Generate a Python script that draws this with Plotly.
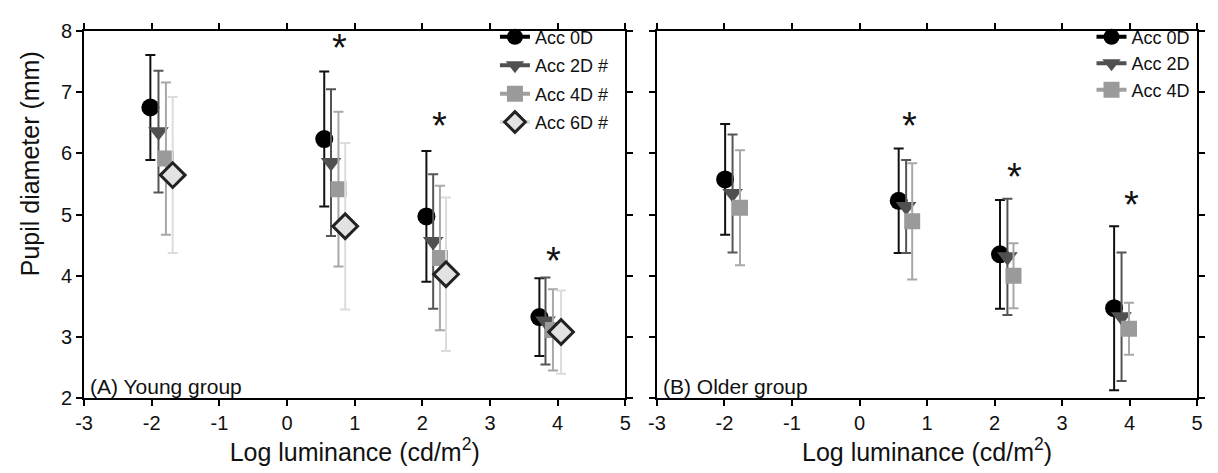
import plotly.graph_objects as go

# ---------------- data ----------------
series_names_young = ["Acc 0D", "Acc 2D #", "Acc 4D #", "Acc 6D #"]
series_names_older = ["Acc 0D", "Acc 2D", "Acc 4D"]

young_0d_x = [-2.02, 0.55, 2.06, 3.73]
young_0d_y = [6.75, 6.235, 4.97, 3.325]
young_0d_sd = [0.86, 1.105, 1.07, 0.635]

young_2d_x = [-1.90, 0.65, 2.16, 3.82]
young_2d_y = [6.355, 5.85, 4.56, 3.26]
young_2d_sd = [0.995, 1.20, 1.10, 0.71]

young_4d_x = [-1.79, 0.76, 2.26, 3.93]
young_4d_y = [5.915, 5.415, 4.29, 3.115]
young_4d_sd = [1.245, 1.265, 1.18, 0.665]

young_6d_x = [-1.69, 0.86, 2.35, 4.05]
young_6d_y = [5.645, 4.81, 4.025, 3.08]
young_6d_sd = [1.275, 1.36, 1.255, 0.68]

older_0d_x = [-1.99, 0.58, 2.08, 3.77]
older_0d_y = [5.575, 5.225, 4.35, 3.47]
older_0d_sd = [0.905, 0.855, 0.89, 1.34]

older_2d_x = [-1.88, 0.69, 2.19, 3.88]
older_2d_y = [5.345, 5.13, 4.31, 3.33]
older_2d_sd = [0.965, 0.76, 0.95, 1.05]

older_4d_x = [-1.77, 0.78, 2.28, 3.99]
older_4d_y = [5.11, 4.89, 4.00, 3.135]
older_4d_sd = [0.94, 0.95, 0.53, 0.425]

star_young_x = [0.78, 2.26, 3.94]
star_young_y = [7.72, 6.45, 4.24]
star_older_x = [0.74, 2.29, 4.02]
star_older_y = [6.44, 5.62, 5.16]

x_tick_vals = [-3, -2, -1, 0, 1, 2, 3, 4, 5]
x_tick_text = ["-3", "-2", "-1", "0", "1", "2", "3", "4", "5"]
y_tick_vals = [2, 3, 4, 5, 6, 7, 8]

panel_labels = ["(A) Young group", "(B) Older group"]
x_title = "Log luminance (cd/m<sup>2</sup>)"
y_title = "Pupil diameter (mm)"

# ---------------- styles ----------------
FONT = "Liberation Sans, Arial, sans-serif"
styles = [
    dict(symbol="circle", size=18, color="#000000", line=dict(width=0, color="#000000"), err="#111111", leg="#000000"),
    dict(symbol="triangle-down", size=18, color="#505050", line=dict(width=0, color="#505050"), err="#555555", leg="#505050"),
    dict(symbol="square", size=16, color="#9a9a9a", line=dict(width=0, color="#9a9a9a"), err="#a8a8a8", leg="#a0a0a0"),
    dict(symbol="diamond", size=19, color="#e2e2e2", line=dict(width=3, color="#222222"), err="#dcdcdc", leg="#dddddd"),
]

fig = go.Figure()

young = [(young_0d_x, young_0d_y, young_0d_sd), (young_2d_x, young_2d_y, young_2d_sd),
         (young_4d_x, young_4d_y, young_4d_sd), (young_6d_x, young_6d_y, young_6d_sd)]
older = [(older_0d_x, older_0d_y, older_0d_sd), (older_2d_x, older_2d_y, older_2d_sd),
         (older_4d_x, older_4d_y, older_4d_sd)]


def add_panel(data, names, xa, ya, legend_id):
    for i, ((xs, ys, sds), name) in enumerate(zip(data, names)):
        st = styles[i]
        fig.add_trace(go.Scatter(
            x=xs, y=ys, mode="markers", xaxis=xa, yaxis=ya, showlegend=False,
            marker=dict(symbol=st["symbol"], size=st["size"], color=st["color"], line=st["line"]),
            error_y=dict(type="data", array=sds, visible=True, color=st["err"], thickness=2, width=5),
        ))
        # legend entry
        fig.add_trace(go.Scatter(
            x=[None], y=[None], mode="lines+markers", xaxis=xa, yaxis=ya, name=name,
            legend=legend_id, legendgroup=legend_id + str(i),
            marker=dict(symbol=st["symbol"], size=st["size"], color=st["color"], line=st["line"]),
            line=dict(color=st["leg"], width=4),
        ))


add_panel(young, series_names_young, "x", "y", "legend")
add_panel(older, series_names_older, "x2", "y2", "legend2")

for sx, sy, xr, yr in [(star_young_x, star_young_y, "x", "y"), (star_older_x, star_older_y, "x2", "y2")]:
    for a, b in zip(sx, sy):
        fig.add_annotation(x=a, y=b, xref=xr, yref=yr, text="*", showarrow=False,
                           font=dict(family=FONT, size=38, color="#111111"), yanchor="middle")

for lbl, xr, yr in [(panel_labels[0], "x domain", "y domain"), (panel_labels[1], "x2 domain", "y2 domain")]:
    fig.add_annotation(x=0.0, y=0.0, xref=xr, yref=yr, text=lbl, showarrow=False,
                       xanchor="left", yanchor="bottom", xshift=4, yshift=-2,
                       font=dict(family=FONT, size=21, color="#111111"))

W, H = 1218, 473
# y-axis title as rotated text
fig.add_annotation(x=21 / W, y=1 - 160 / H, xref="paper", yref="paper", text=y_title,
                   showarrow=False, textangle=-90, xanchor="center", yanchor="middle",
                   font=dict(family=FONT, size=25, color="#111111"))

axis_common = dict(
    showline=True, linecolor="#000000", linewidth=2, mirror="ticks",
    ticks="outside", ticklen=6, tickwidth=2, tickcolor="#000000",
    showgrid=False, zeroline=False,
    tickfont=dict(family=FONT, size=20, color="#111111"),
)

yd = [1 - 406 / H, 1 - 21 / H]
fig.update_layout(
    width=W, height=H,
    margin=dict(l=0, r=0, t=0, b=0),
    paper_bgcolor="white", plot_bgcolor="white",
    xaxis=dict(domain=[76 / W, 624 / W], range=[-3, 5], tickvals=x_tick_vals, ticktext=x_tick_text, anchor="y",
               title=dict(text=x_title, font=dict(family=FONT, size=25, color="#111111"), standoff=2),
               **axis_common),
    yaxis=dict(domain=yd, range=[2, 8], tickvals=y_tick_vals, anchor="x", **axis_common),
    xaxis2=dict(domain=[656 / W, 1203 / W], range=[-3, 5], tickvals=x_tick_vals, ticktext=x_tick_text, anchor="y2",
                title=dict(text=x_title, font=dict(family=FONT, size=25, color="#111111"), standoff=2),
                **axis_common),
    yaxis2=dict(domain=yd, range=[2, 8], tickvals=y_tick_vals, anchor="x2", showticklabels=False,
                **axis_common),
    legend=dict(x=492 / W, y=1 - 8 / H, xanchor="left", yanchor="top",
                font=dict(family=FONT, size=18, color="#111111"),
                bgcolor="rgba(0,0,0,0)", tracegroupgap=2, traceorder="grouped"),
    legend2=dict(x=1096 / W, y=1 - 8 / H, xanchor="left", yanchor="top",
                 font=dict(family=FONT, size=18, color="#111111"),
                 bgcolor="rgba(0,0,0,0)", tracegroupgap=0, traceorder="grouped"),
    showlegend=True,
)

fig.write_html("out.html")
